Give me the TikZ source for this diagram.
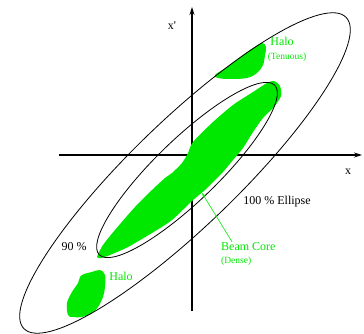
\documentclass[tikz,border=0pt]{standalone}
\usepackage{fontspec}
\setmainfont{Liberation Serif}
\usetikzlibrary{calc,arrows.meta}

\definecolor{beamgreen}{RGB}{0,232,0}

\begin{document}
\begin{tikzpicture}[
    x=1pt, y=-1pt,
    every node/.style={font=\fontsize{12}{14}\selectfont, inner sep=1pt},
    small/.style={font=\fontsize{9.5}{11}\selectfont},
    axis/.style={-{Stealth[length=8pt,width=5pt]}, line width=1.1pt},
    ring/.style={line width=0.8pt},
    blob/.style={fill=beamgreen, draw=none},
    glab/.style={text=beamgreen},
    pointer/.style={-{Stealth[length=5pt,width=3pt]}, beamgreen, line width=0.6pt},
]
\useasboundingbox (0,0) rectangle (364,334);

% axes
\coordinate (xs) at (59,155);
\coordinate (xe) at (362,155);
\coordinate (ys) at (192,311);
\coordinate (ye) at (192,7);
\draw[axis] (xs) -- (xe);
\draw[axis] (ys) -- (ye);
\node (xlab) at (348,172) {x};
\node (xplab) at (172,26) {x\textquotesingle};

% beam core and halo
\fill[blob] plot[smooth cycle, tension=0.45] coordinates {
  (97,257) (103,245) (115,230) (135,207) (152,190) (165,178) (172,173)
  (182,163) (188,153) (193,142) (213,122) (233,105) (253,92) (267,83)
  (274,81) (280,86) (281,96) (274,107) (263,118) (253,132) (243,148)
  (233,160) (223,172) (213,182) (205,190) (192,201) (172,220) (152,233)
  (128,247) (110,255) (101,258)};
\fill[blob] plot[smooth cycle, tension=0.6] coordinates {
  (215,75) (227,67) (243,55) (253,48) (262,43) (266,47) (265,55)
  (263,65) (257,73) (247,78) (230,79) (218,78)};
\fill[blob] plot[smooth cycle, tension=0.6] coordinates {
  (68,315) (67,303) (72,292) (78,283) (80,277) (84,274) (92,272)
  (100,270) (105,275) (105,287) (103,297) (98,307) (92,313) (82,317)
  (73,317)};

% ellipses
\draw[ring, rotate around={44:(185,173)}] (185,173) ellipse [x radius=224, y radius=53];
\draw[ring, rotate around={44:(187,170)}] (187,170) ellipse [x radius=122, y radius=31];

% labels
\node[glab] (halotop) at (282,41) {Halo};
\node[glab, small] (tenuous) at (287,57) {(Tenuous)};
\node[glab] (halobot) at (121,276) {Halo};
\node (ninety) at (74,247) {90 \%};
\node (hundred) at (277,202) {100 \% Ellipse};
\node[glab, anchor=west] (corelab) at (220,247) {Beam Core};
\node[glab, small, anchor=west] (dense) at (220,261) {(Dense)};

\coordinate (coretip) at (202,193);
\draw[pointer] ($(corelab.north west)+(12,0)$) -- (coretip);
\end{tikzpicture}
\end{document}
